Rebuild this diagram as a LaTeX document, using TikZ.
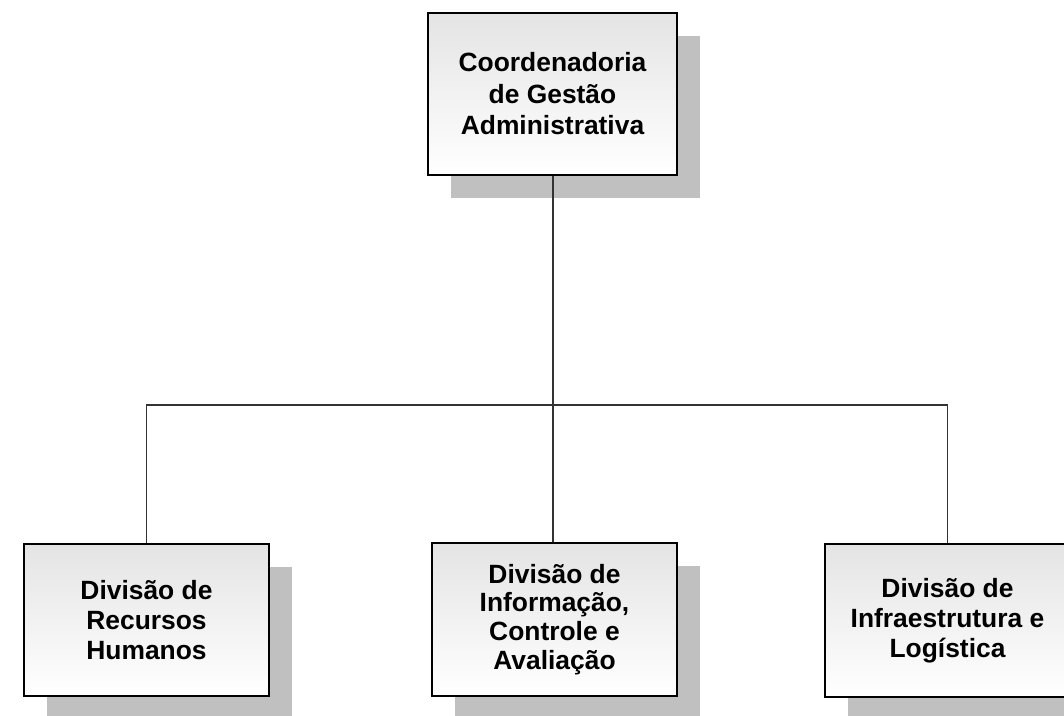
\documentclass[tikz,border=0pt]{standalone}
\usepackage{fontspec}
\setmainfont{Liberation Sans}
\usetikzlibrary{shadows}
\definecolor{boxtop}{HTML}{E4E4E4}
\definecolor{shadowgray}{HTML}{C0C0C0}
\definecolor{linegray}{HTML}{333333}
\tikzset{
  orgbox/.style={draw=black, line width=1.5pt, rectangle, top color=boxtop, bottom color=white,
    align=center, font=\bfseries\fontsize{19.8}{23.6}\selectfont,
    general shadow={fill=shadowgray, shadow xshift=17.25pt, shadow yshift=-17.25pt}},
  conn/.style={draw=linegray, line width=0.8pt}
}
\begin{document}
\begin{tikzpicture}[x=0.75pt,y=-0.75pt]
\clip (0,0) rectangle (1064,715);
\node[orgbox, minimum width=186.75pt, minimum height=121.5pt] (top) at (552.5,94) {Coordenadoria\\de Gestão\\Administrativa};
\node[orgbox, minimum width=183.75pt, minimum height=114pt, font=\bfseries\fontsize{19.8}{22.5}\selectfont] (left) at (146.5,620) {Divisão de\\Recursos\\Humanos};
\node[orgbox, minimum width=183.75pt, minimum height=114.75pt, font=\bfseries\fontsize{19.8}{21.6}\selectfont] (mid) at (554.5,619.5) {Divisão de\\Informação,\\Controle e\\Avaliação};
\node[orgbox, minimum width=183.75pt, minimum height=114.75pt, font=\bfseries\fontsize{19.8}{22.5}\selectfont] (right) at (947.5,620.5) {Divisão de\\Infraestrutura e\\Logística};
\coordinate (j) at (553,405);
\draw[conn] (top.south -| j) -- (j);
\draw[conn] (left.north) |- (j) -| (right.north);
\draw[conn] (j) -- (mid.north -| j);
\end{tikzpicture}
\end{document}
